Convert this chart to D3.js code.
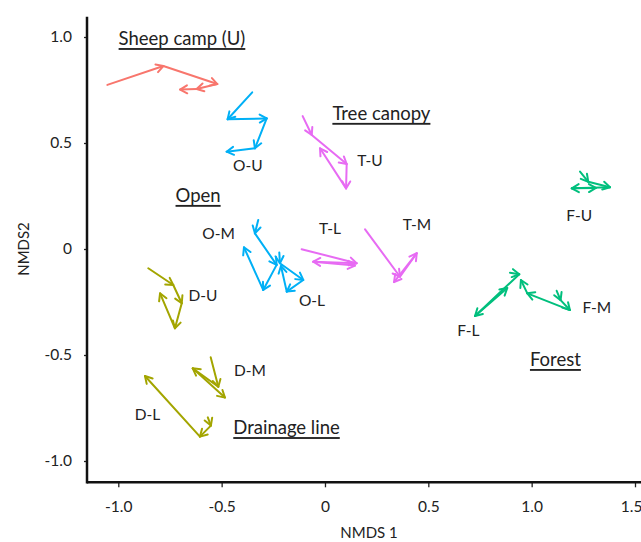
<!DOCTYPE html>
<html><head><meta charset="utf-8">
<script src="https://cdn.jsdelivr.net/npm/d3@7"></script>
<style>
html,body{margin:0;padding:0;background:#fff;}
svg text{font-family:Lato,"Open Sans",sans-serif;fill:#222;}
</style></head>
<body>
<div id="chart"></div>
<script>
// ---- Data (NMDS1, NMDS2) trajectories ----
const sheepU = [[-1.053,0.774],[-0.782,0.863],[-0.521,0.778],[-0.621,0.755],[-0.701,0.752]];
const openU  = [[-0.352,0.739],[-0.471,0.612],[-0.282,0.616],[-0.339,0.475],[-0.476,0.459]];
const openM  = [[-0.323,0.137],[-0.339,0.074],[-0.234,-0.075],[-0.299,-0.193],[-0.392,0.008]];
const openL  = [[-0.221,-0.017],[-0.218,-0.067],[-0.105,-0.146],[-0.185,-0.201],[-0.213,-0.080]];
const treeU  = [[-0.108,0.627],[-0.064,0.538],[0.105,0.401],[0.102,0.286],[-0.024,0.475]];
const treeL  = [[-0.113,-0.001],[0.153,-0.067],[-0.057,-0.060],[0.145,-0.078]];
const treeM  = [[0.194,0.093],[0.363,-0.131],[0.444,-0.020],[0.334,-0.156]];
const drainU = [[-0.855,-0.091],[-0.734,-0.170],[-0.693,-0.256],[-0.726,-0.374],[-0.798,-0.209]];
const drainM = [[-0.553,-0.511],[-0.516,-0.650],[-0.640,-0.563],[-0.484,-0.701]];
const drainL = [[-0.567,-0.794],[-0.552,-0.833],[-0.605,-0.885],[-0.871,-0.599]];
const forestU = [[1.234,0.365],[1.274,0.317],[1.379,0.291],[1.194,0.286],[1.311,0.288]];
const forestL = [[0.895,-0.112],[0.940,-0.119],[0.726,-0.316],[0.882,-0.184]];
const forestM = [[1.121,-0.197],[1.140,-0.241],[1.185,-0.288],[0.979,-0.209],[0.948,-0.146]];

const habitats = ["Sheep camp","Open","Tree canopy","Drainage line","Forest"];
const trajectories = [
  {habitat:"Sheep camp", pts:sheepU},
  {habitat:"Open", pts:openU},{habitat:"Open", pts:openM},{habitat:"Open", pts:openL},
  {habitat:"Tree canopy", pts:treeU},{habitat:"Tree canopy", pts:treeL},{habitat:"Tree canopy", pts:treeM},
  {habitat:"Drainage line", pts:drainU},{habitat:"Drainage line", pts:drainM},{habitat:"Drainage line", pts:drainL},
  {habitat:"Forest", pts:forestU},{habitat:"Forest", pts:forestL},{habitat:"Forest", pts:forestM}
];
const xTicks = [-1.0,-0.5,0,0.5,1.0,1.5];
const yTicks = [1.0,0.5,0,-0.5,-1.0];
const tickText = v => v===0 ? "0" : d3.format(".1f")(v).replace("\u2212","-");

// annotation labels (data coordinates)
const groupLabels = [
  ["O-U",-0.373,0.396],["T-U",0.218,0.422],["O-M",-0.515,0.075],["T-L",0.024,0.099],
  ["T-M",0.445,0.118],["O-L",-0.063,-0.241],["D-U",-0.590,-0.217],["D-M",-0.363,-0.571],
  ["D-L",-0.859,-0.778],["F-U",1.230,0.160],["F-M",1.315,-0.272],["F-L",0.694,-0.382]
];
const habitatLabels = [
  ["Sheep camp (U)",-0.692,0.995],["Tree canopy",0.273,0.642],["Open",-0.614,0.255],
  ["Drainage line",-0.186,-0.840],["Forest",1.115,-0.519]
];

// ---- Drawing ----
const W=641,H=542;
const x = d3.scaleLinear().domain([-1,1.5]).range([118.3,635]);
const y = d3.scaleLinear().domain([-1,1]).range([461,37]);
const color = d3.scaleOrdinal().domain(habitats)
  .range(["#F8766D","#00B0F6","#E76BF3","#A3A500","#00BF7D"]);

const svg = d3.select("#chart").append("svg").attr("width",W).attr("height",H);
const defs = svg.append("defs");
habitats.forEach((h,i)=>{
  defs.append("marker").attr("id","arr"+i)
    .attr("viewBox","-10 -6 12 12").attr("refX",0).attr("refY",0)
    .attr("markerWidth",12).attr("markerHeight",12)
    .attr("markerUnits","userSpaceOnUse").attr("orient","auto")
    .append("path").attr("d","M-7,-4 L0,0 L-7,4")
    .attr("fill","none").attr("stroke",color(h)).attr("stroke-width",2)
    .attr("stroke-linecap","round").attr("stroke-linejoin","round");
});

const g = svg.append("g");
trajectories.forEach(t=>{
  const idx = habitats.indexOf(t.habitat);
  for(let i=0;i<t.pts.length-1;i++){
    const a=t.pts[i], b=t.pts[i+1];
    g.append("line")
      .attr("x1",x(a[0])).attr("y1",y(a[1]))
      .attr("x2",x(b[0])).attr("y2",y(b[1]))
      .attr("stroke",color(t.habitat)).attr("stroke-width",2)
      .attr("stroke-linecap","round")
      .attr("marker-end","url(#arr"+idx+")");
  }
});

// axes
const xAxisY = 482.3, yAxisX = 87;
const xAxis = d3.axisBottom(x).tickValues(xTicks).tickFormat(tickText).tickSize(5).tickPadding(14);
const gx = svg.append("g").attr("transform",`translate(0,${xAxisY})`).call(xAxis);
gx.select(".domain").remove();
gx.selectAll(".tick line").attr("stroke","#222").attr("stroke-width",1.3);
gx.selectAll(".tick text").attr("font-size",15.5).attr("fill","#333").attr("font-family","Lato,sans-serif");
gx.selectAll(".tick text").filter(d=>d===1.5).attr("text-anchor","end").attr("dx",7);
svg.append("line").attr("x1",yAxisX).attr("x2",W).attr("y1",xAxisY).attr("y2",xAxisY)
  .attr("stroke","#111").attr("stroke-width",2.5);

const yAxis = d3.axisLeft(y).tickValues(yTicks).tickFormat(tickText).tickSize(3).tickPadding(12);
const gy = svg.append("g").attr("transform",`translate(${yAxisX},0)`).call(yAxis);
gy.select(".domain").remove();
gy.selectAll(".tick line").attr("stroke","#222").attr("stroke-width",1.3);
gy.selectAll(".tick text").attr("font-size",15.5).attr("fill","#333").attr("font-family","Lato,sans-serif");
svg.append("line").attr("x1",yAxisX).attr("x2",yAxisX).attr("y1",16.7).attr("y2",xAxisY+1.2)
  .attr("stroke","#111").attr("stroke-width",2.5);

svg.append("text").attr("x",369).attr("y",532).attr("text-anchor","middle")
  .attr("dominant-baseline","central").attr("font-size",15).attr("fill","#333").text("NMDS 1");
svg.append("text").attr("transform","translate(23,249) rotate(-90)").attr("text-anchor","middle")
  .attr("dominant-baseline","central").attr("font-size",15).attr("fill","#333").text("NMDS2");

// labels
svg.append("g").selectAll("text").data(groupLabels).join("text")
  .attr("x",d=>x(d[1])).attr("y",d=>y(d[2])).attr("text-anchor","middle")
  .attr("dominant-baseline","central").attr("font-size",15.5).text(d=>d[0]);
svg.append("g").selectAll("text").data(habitatLabels).join("text")
  .attr("x",d=>x(d[1])).attr("y",d=>y(d[2])).attr("text-anchor","middle")
  .attr("dominant-baseline","central").attr("font-size",18.5)
  .attr("text-decoration","underline").text(d=>d[0]);
</script>
</body></html>
